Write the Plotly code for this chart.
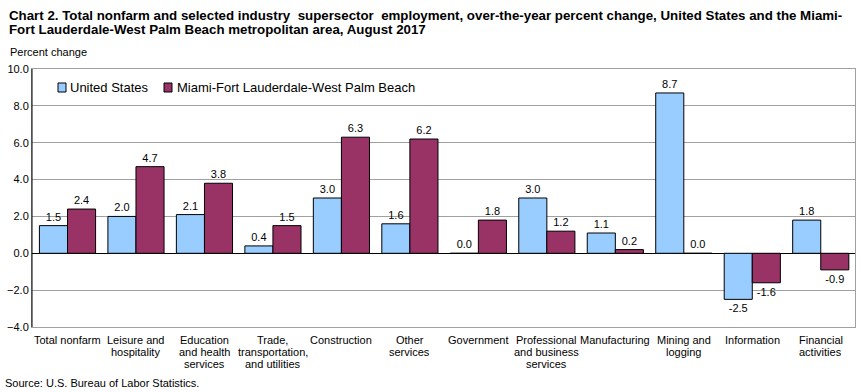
import plotly.graph_objects as go

categories = ["Total nonfarm", "Leisure and<br>hospitality", "Education<br>and health<br>services",
              "Trade,<br>transportation,<br>and utilities", "Construction", "Other<br>services",
              "Government", "Professional<br>and business<br>services", "Manufacturing",
              "Mining and<br>logging", "Information", "Financial<br>activities"]
us_values = [1.5, 2.0, 2.1, 0.4, 3.0, 1.6, 0.0, 3.0, 1.1, 8.7, -2.5, 1.8]
miami_values = [2.4, 4.7, 3.8, 1.5, 6.3, 6.2, 1.8, 1.2, 0.2, 0.0, -1.6, -0.9]
series_names = ["United States", "Miami-Fort Lauderdale-West Palm Beach"]
series_colors = ["#99CCFF", "#993366"]
y_ticks = [-4.0, -2.0, 0.0, 2.0, 4.0, 6.0, 8.0, 10.0]
title_lines = ["<b>Chart 2. Total nonfarm and selected industry  supersector  employment, over-the-year percent change, United States and the Miami-</b>",
               "<b>Fort Lauderdale-West Palm Beach metropolitan area, August 2017</b>"]

FONT = "Liberation Sans, Arial, sans-serif"
W, H = 868, 392
L, R, T, B = 32, 13, 69, 65
PW, PH = W - L - R, H - T - B


def px_x(px):
    return (px - L) / PW


def px_y(py):
    return (H - B - py) / PH


fig = go.Figure()
for name, vals, col in zip(series_names, [us_values, miami_values], series_colors):
    fig.add_trace(go.Bar(
        x=categories, y=vals, name=name, showlegend=False,
        marker=dict(color=col, line=dict(color="black", width=1)),
        text=[f"{v:.1f}" for v in vals], textposition="outside",
        textfont=dict(size=11, color="black", family=FONT), cliponaxis=False,
    ))

annotations = []
for i, ln in enumerate(title_lines):
    annotations.append(dict(text=ln, xref="paper", yref="paper", x=px_x(7), y=px_y(15 + 14.5 * i),
                            xanchor="left", yanchor="middle", showarrow=False,
                            font=dict(size=13.3, family=FONT)))
annotations.append(dict(text="Percent change", xref="paper", yref="paper", x=px_x(8), y=px_y(52),
                        xanchor="left", yanchor="middle", showarrow=False, font=dict(size=11, family=FONT)))
annotations.append(dict(text="Source: U.S. Bureau of Labor Statistics.", xref="paper", yref="paper",
                        x=px_x(3), y=px_y(383), xanchor="left", yanchor="middle", showarrow=False,
                        font=dict(size=11, family=FONT)))
# category labels, one line at a time for tight spacing
for cat in categories:
    for j, part in enumerate(cat.split("<br>")):
        annotations.append(dict(text=part, xref="x", yref="paper", x=cat, y=px_y(340 + 12 * j),
                                xanchor="center", yanchor="middle", showarrow=False,
                                font=dict(size=11, family=FONT)))

shapes = [dict(type="line", xref="paper", yref="paper", x0=0, x1=0, y0=0, y1=1,
               line=dict(color="black", width=1), layer="above")]
# manual legend
legend_pos = [(58, 68), (164, 175)]
for (sx, tx), name, col in zip(legend_pos, series_names, series_colors):
    shapes.append(dict(type="rect", xref="paper", yref="paper", x0=px_x(sx), x1=px_x(sx + 8),
                       y0=px_y(92), y1=px_y(83), fillcolor=col, line=dict(color="black", width=1),
                       layer="above"))
    annotations.append(dict(text=name, xref="paper", yref="paper", x=px_x(tx), y=px_y(87.5),
                            xanchor="left", yanchor="middle", showarrow=False,
                            font=dict(size=13, family=FONT)))

fig.update_layout(
    width=W, height=H,
    margin=dict(l=L, r=R, t=T, b=B),
    paper_bgcolor="white", plot_bgcolor="white",
    font=dict(family=FONT, size=11, color="black"),
    barmode="group", bargap=0.18, bargroupgap=0,
    showlegend=False,
    xaxis=dict(showline=True, linecolor="#A0A0A0", linewidth=1, mirror=True,
               showgrid=False, ticks="", showticklabels=False, automargin=False),
    yaxis=dict(range=[-4, 10], tickvals=y_ticks, tickformat=".1f",
               showgrid=True, gridcolor="#A0A0A0", gridwidth=1,
               showline=True, linecolor="#A0A0A0", linewidth=1, mirror=True,
               zeroline=True, zerolinecolor="black", zerolinewidth=1,
               ticks="", tickfont=dict(size=11, family=FONT), automargin=False),
    annotations=annotations,
    shapes=shapes,
)

fig.write_html("out.html", config={"displayModeBar": False},
               post_script="document.body.style.margin='0';document.body.style.padding='0';")
